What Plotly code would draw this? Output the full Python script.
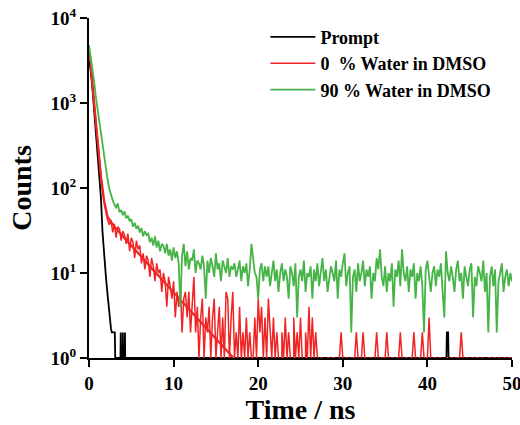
import plotly.graph_objects as go

# ---- data ----
dt = 0.2
t_grid = [round(i * dt, 1) for i in range(251)]  # 0 .. 50 ns channels

# Prompt (IRF) vertices: time, counts
prompt_t = [0, 0.2, 0.4, 0.6, 0.8, 1.0, 1.2, 1.4, 1.6, 1.8, 2.0, 2.2, 2.4, 2.6, 2.7,
            3.05, 3.1, 3.72, 3.75, 3.78, 3.97, 4.0, 4.03, 4.22, 4.25, 4.28,
            42.25, 42.3, 42.45, 42.5, 50]
prompt_y = [3200, 2400, 1500, 850, 480, 270, 155, 80, 30, 15, 9, 5.5, 3.2, 2.2, 2,
            2, 1, 1, 2, 1, 1, 2, 1, 1, 2, 1,
            1, 2, 2, 1, 1]

water0 = [4200, 2800, 1700, 1000, 600, 360, 220, 140, 92, 65, 50, 42,
          37, 42, 30, 38, 26, 35, 33, 24, 31, 28,
          22, 29, 18, 26, 23, 15, 24, 19, 21, 13,
          17, 11, 16, 14, 9, 15, 12, 8, 13, 10,
          11, 6, 10, 8, 4, 9, 7, 5, 8, 3,
          6, 4, 7, 2, 5, 6, 3, 6, 2, 5,
          9, 2, 4, 1, 3, 5, 1, 3, 2, 4,
          1, 3, 5, 1, 2, 4, 1, 3, 1, 6,
          5, 1, 3, 6, 1, 2, 1, 4, 1, 2,
          1, 3, 1, 2, 1, 1, 3, 1, 5, 2,
          4, 1, 3, 1, 5, 2, 1, 3, 1, 2,
          1, 0, 2, 1, 3, 1, 2, 1, 0, 3,
          1, 2, 1, 3, 1, 0, 2, 1, 4, 1,
          3, 1, 2, 1, 0, 1, 1, 0, 0, 1,
          1, 0, 1, 1, 0, 0, 1, 2, 1, 0,
          1, 1, 0, 1, 1, 1, 2, 1, 0, 1,
          2, 1, 1, 0, 1, 1, 0, 1, 2, 1,
          0, 1, 1, 1, 2, 1, 0, 1, 1, 0,
          1, 1, 2, 1, 0, 1, 1, 0, 1, 1,
          2, 1, 0, 1, 1, 2, 1, 1, 1, 3,
          1, 0, 1, 1, 0, 1, 1, 0, 0, 1,
          1, 0, 1, 1, 0, 1, 1, 1, 2, 1,
          0, 1, 1, 0, 1, 1, 0, 1, 1, 0,
          1, 1, 0, 0, 1, 1, 0, 1, 1, 0,
          1, 1, 0, 1, 1, 0, 1, 1, 1]

# fitted decay of the 0 % sample
fit_t = [0.2, 0.6, 1.0, 1.4, 1.8, 2.2, 3, 4, 5, 6, 7, 8, 9, 10, 11, 12, 13, 14, 15, 16, 17, 17.5]
fit_y = [2800, 1000, 360, 140, 70, 46, 35, 27, 21, 16, 12.5, 9.8, 7.6, 5.9, 4.6, 3.6, 2.8, 2.2,
         1.7, 1.3, 1.02, 0.9]

water90 = [4800, 3600, 2600, 1800, 1200, 850, 620, 450, 320, 230, 165, 125, 98, 82, 72,
           64, 58, 66, 52, 55, 48, 53, 44, 47, 41,
           43, 35, 39, 33, 36, 30, 34, 27, 31, 28,
           29, 23, 26, 21, 27, 20, 24, 18, 22, 21,
           17, 22, 16, 19, 14, 20, 15, 18, 13, 4,
           16, 22, 12, 18, 11, 15, 14, 19, 10, 14,
           13, 11, 16, 12, 5, 14, 10, 15, 12, 9,
           17, 11, 13, 8, 14, 12, 10, 15, 9, 12,
           11, 13, 9, 11, 14, 8, 12, 10, 13, 7,
           11, 22, 14, 10, 9, 5, 11, 13, 8, 12,
           9, 12, 7, 10, 14, 8, 11, 6, 10, 13,
           8, 11, 9, 5, 12, 10, 7, 13, 3, 9,
           11, 8, 14, 6, 10, 9, 12, 5, 11, 8,
           13, 7, 10, 15, 8, 11, 6, 9, 12, 10,
           8, 14, 5, 11, 9, 13, 17, 7, 10, 12,
           2, 9, 11, 6, 13, 8, 10, 14, 7, 11,
           9, 12, 5, 10, 8, 15, 11, 19, 9, 7,
           12, 6, 10, 8, 13, 4, 11, 9, 14, 7,
           19, 10, 8, 12, 6, 11, 9, 13, 5, 10,
           8, 12, 7, 2, 11, 14, 9, 6, 10, 12,
           7, 11, 9, 13, 6, 3, 18, 10, 8, 12,
           9, 6, 11, 14, 8, 10, 5, 12, 9, 7,
           11, 13, 3, 9, 7, 12, 10, 8, 14, 6,
           10, 2, 9, 12, 7, 11, 2, 8, 10, 13,
           6, 9, 11, 7, 10, 8]

names = ["Prompt", "0 \u00a0% Water in DMSO", "90 % Water in DMSO"]
x_ticks = [0, 10, 20, 30, 40, 50]
y_ticks = [1, 10, 100, 1000, 10000]
y_ticktext = ["10<sup>0</sup>", "10<sup>1</sup>", "10<sup>2</sup>", "10<sup>3</sup>", "10<sup>4</sup>"]

BLACK = "#000000"
RED = "#f02424"
GREEN = "#46b446"
FONT = "Liberation Serif"

fig = go.Figure()
fig.add_trace(go.Scatter(x=prompt_t, y=prompt_y, mode="lines", name=names[0],
                         line=dict(color=BLACK, width=1.8)))
fig.add_trace(go.Scatter(x=t_grid, y=water0, mode="lines", name=names[1],
                         line=dict(color=RED, width=1.5), connectgaps=False))
fig.add_trace(go.Scatter(x=fit_t, y=fit_y, mode="lines", showlegend=False,
                         line=dict(color=RED, width=2.2)))
fig.add_trace(go.Scatter(x=t_grid, y=water90, mode="lines", name=names[2],
                         line=dict(color=GREEN, width=1.8)))

axis_common = dict(showline=True, linecolor=BLACK, linewidth=2, ticks="outside",
                   ticklen=7, tickwidth=2, tickcolor=BLACK, showgrid=False, zeroline=False,
                   tickfont=dict(family=FONT, size=19, color=BLACK, weight="bold"),
                   layer="below traces", automargin=False, ticklabeloverflow="allow")

fig.update_layout(
    width=520, height=425,
    margin=dict(l=89, r=8, t=18, b=67),
    paper_bgcolor="white", plot_bgcolor="white",
    showlegend=True,
    legend=dict(x=0.417, y=0.998, xanchor="left", yanchor="top",
                font=dict(family=FONT, size=18, color=BLACK, weight="bold"),
                bgcolor="rgba(0,0,0,0)", tracegroupgap=0, itemwidth=45),
    xaxis=dict(range=[0, 50], tickvals=x_ticks,
               title=dict(text="Time / ns", standoff=10,
                          font=dict(family=FONT, size=28, color=BLACK, weight="bold")),
               **axis_common),
    yaxis=dict(type="log", range=[0, 4], tickvals=y_ticks, ticktext=y_ticktext,
               title=dict(text="Counts", standoff=11,
                          font=dict(family=FONT, size=28, color=BLACK, weight="bold")),
               **axis_common),
)

fig.write_html("out.html",
               config={"displayModeBar": False},
               post_script="document.body.style.margin='0';document.body.style.overflow='hidden';")
